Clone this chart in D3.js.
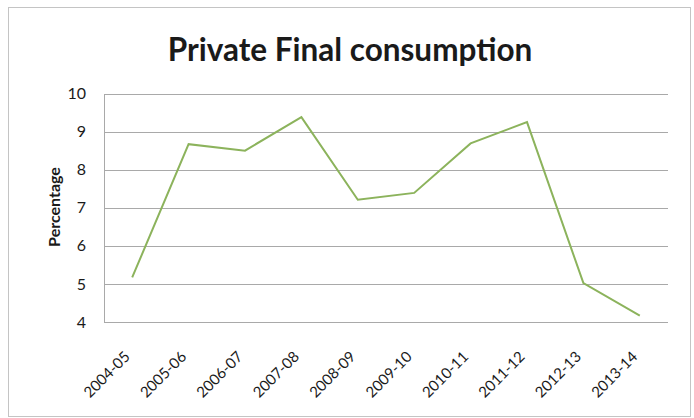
<!DOCTYPE html>
<html>
<head>
<meta charset="utf-8">
<script src="https://cdn.jsdelivr.net/npm/d3@7"></script>
<style>
  body { margin: 0; background: #fff; }
  text { font-family: Lato, "Open Sans", sans-serif; fill: #1a1a1a; }
</style>
</head>
<body>
<script>
const years = ['2004-05', '2005-06', '2006-07', '2007-08', '2008-09',
               '2009-10', '2010-11', '2011-12', '2012-13', '2013-14'];
const pfc = [5.17, 8.67, 8.5, 9.38, 7.21, 7.39, 8.69, 9.25, 5.02, 4.17];
const yTicks = [4, 5, 6, 7, 8, 9, 10];

const width = 694;
const height = 418;
const margin = {top: 93.5, right: 26, bottom: 96, left: 104};

const svg = d3.select('body').append('svg')
    .attr('width', width)
    .attr('height', height);

// chart frame
svg.append('rect')
    .attr('x', 8.5).attr('y', 7.5)
    .attr('width', 682).attr('height', 409)
    .attr('fill', '#fff')
    .attr('stroke', '#c4c4c4');

const x = d3.scaleBand()
    .domain(years)
    .range([margin.left, width - margin.right]);

const y = d3.scaleLinear()
    .domain([4, 10])
    .range([height - margin.bottom, margin.top]);

// gridlines
svg.append('g')
  .selectAll('line')
  .data(yTicks)
  .join('line')
    .attr('x1', margin.left)
    .attr('x2', width - margin.right)
    .attr('y1', (d) => Math.round(y(d)) + 0.5)
    .attr('y2', (d) => Math.round(y(d)) + 0.5)
    .attr('stroke', '#a9a9a9');

svg.append('line')
    .attr('x1', margin.left + 0.5).attr('x2', margin.left + 0.5)
    .attr('y1', Math.round(y(10)) + 0.5).attr('y2', Math.round(y(4)) + 0.5)
    .attr('stroke', '#a9a9a9');

// y tick labels
svg.append('g')
  .selectAll('text')
  .data(yTicks)
  .join('text')
    .attr('x', margin.left - 18)
    .attr('y', (d) => y(d))
    .attr('dy', '0.35em')
    .attr('text-anchor', 'end')
    .style('font-size', '16px')
    .text((d) => d);

// x labels, rotated
svg.append('g')
  .selectAll('text')
  .data(years)
  .join('text')
    .attr('transform', (d) => `translate(${x(d) + x.bandwidth() / 2 - 5},${height - margin.bottom + 32}) rotate(-45)`)
    .attr('text-anchor', 'end')
    .attr('dy', '0.35em')
    .style('font-size', '15px')
    .text((d) => d);

// line
const line = d3.line()
    .x((d, i) => x(years[i]) + x.bandwidth() / 2)
    .y((d) => y(d));

svg.append('path')
    .datum(pfc)
    .attr('fill', 'none')
    .attr('stroke', '#8cb35c')
    .attr('stroke-width', 2)
    .attr('d', line);

// title
svg.append('text')
    .attr('x', 350)
    .attr('y', 61)
    .attr('text-anchor', 'middle')
    .style('font-size', '31.5px')
    .style('font-weight', 'bold')
    .text('Private Final consumption');

svg.append('text')
    .attr('transform', 'translate(60,207) rotate(-90)')
    .attr('text-anchor', 'middle')
    .style('font-size', '16px')
    .style('font-weight', 'bold')
    .text('Percentage');
</script>
</body>
</html>
